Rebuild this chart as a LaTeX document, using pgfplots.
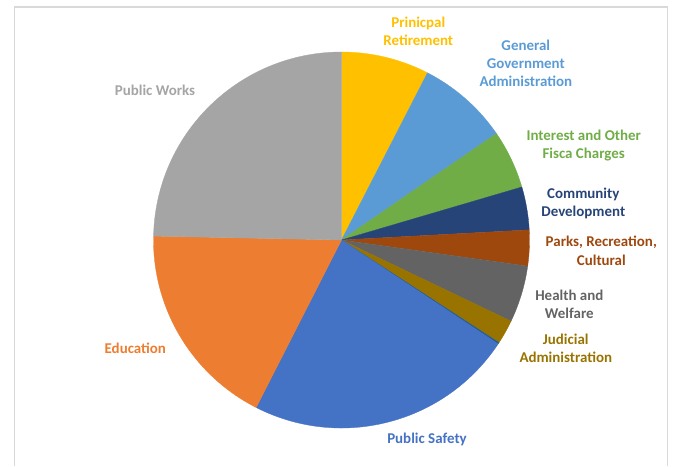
\documentclass[border=0pt]{standalone}
\usepackage{fontspec}
\setmainfont{Carlito}
\usepackage{pgfplots}
\usepackage{pgfplotstable}
\pgfplotsset{compat=1.18}

\definecolor{c0}{HTML}{FFC000}
\definecolor{c1}{HTML}{5B9BD5}
\definecolor{c2}{HTML}{70AD47}
\definecolor{c3}{HTML}{264478}
\definecolor{c4}{HTML}{9E480E}
\definecolor{c5}{HTML}{636363}
\definecolor{c6}{HTML}{997300}
\definecolor{c7}{HTML}{255E91}
\definecolor{c8}{HTML}{4472C4}
\definecolor{c9}{HTML}{ED7D31}
\definecolor{c10}{HTML}{A5A5A5}
\definecolor{frame}{HTML}{D9D9D9}

\tikzset{lbl/.style={align=center, inner sep=0pt, font=\bfseries\fontsize{15}{18.3}\selectfont}}

% shares of the total (percent), clockwise from 12 o'clock
\pgfplotstableread[col sep=comma]{
label,value
Prinicpal Retirement,7.56
General Government Administration,7.86
Interest and Other Fisca Charges,5.03
Community Development,3.69
Parks Recreation Cultural,3.08
Health and Welfare,4.89
Judicial Administration,2.08
Other,0.14
Public Safety,23.17
Education,17.83
Public Works,24.67
}\piedata

\begin{document}
\begin{tikzpicture}
\begin{axis}[
  x=1bp, y=1bp,
  xmin=0, xmax=674, ymin=0, ymax=466,
  scale only axis, hide axis, clip=false,
]
\path (axis cs:0,0) rectangle (axis cs:674,466);
\draw[frame, line width=1.5bp] (axis cs:14.5,0) -- (axis cs:14.5,459) -- (axis cs:667.5,459) -- (axis cs:667.5,0);

\def\cum{0}
\pgfplotsforeachungrouped \i in {0,...,10}{%
  \pgfplotstablegetelem{\i}{value}\of\piedata
  \let\sval\pgfplotsretval
  \pgfmathsetmacro{\a}{90-3.6*\cum}%
  \pgfmathsetmacro{\b}{90-3.6*(\cum+\sval)}%
  \edef\temp{\noexpand\fill[c\i, draw=c\i, line width=0.3bp] (axis cs:341.5,226) -- ++(\a:188bp) arc[start angle=\a, end angle=\b, radius=188bp] -- cycle;}%
  \temp
  \pgfmathsetmacro{\cum}{\cum+\sval}%
}

\node[lbl, text=c0] at (axis cs:418.3,435) {Prinicpal\\Retirement};
\node[lbl, text=c1] at (axis cs:525.8,402.7) {General\\Government\\Administration};
\node[lbl, text=c2] at (axis cs:583.7,320.2) {Interest and Other\\Fisca Charges};
\node[lbl, text=c3] at (axis cs:583.3,262.2) {Community\\Development};
\node[lbl, text=c4] at (axis cs:601.3,215.2) {Parks, Recreation,\\Cultural};
\node[lbl, text=c5] at (axis cs:569.3,161.8) {Health and\\Welfare};
\node[lbl, text=c6] at (axis cs:565.8,117.7) {Judicial\\Administration};
\node[lbl, text=c8] at (axis cs:427,27) {Public Safety};
\node[lbl, text=c9] at (axis cs:135.3,117.7) {Education};
\node[lbl, text=c10] at (axis cs:155,376) {Public Works};
\end{axis}
\end{tikzpicture}
\end{document}
